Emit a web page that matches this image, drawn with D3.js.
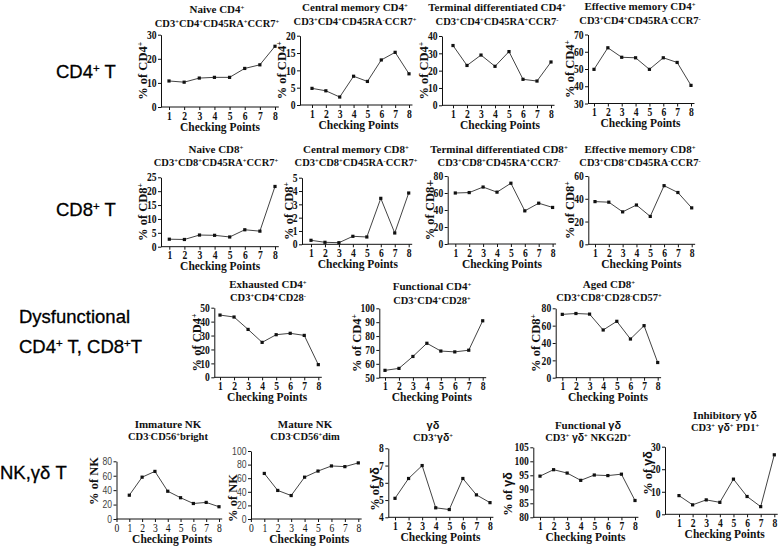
<!DOCTYPE html>
<html>
<head>
<meta charset="utf-8">
<script src="https://cdnjs.cloudflare.com/ajax/libs/d3/7.8.5/d3.min.js"></script>
<style>
  body { margin: 0; background: #fff; }
  svg { display: block; }
</style>
</head>
<body>
<div class="figure"></div>
<script>
// Data
// ========================
var checkPoints = [1, 2, 3, 4, 5, 6, 7, 8];

var naiveCD4 = [10.8, 10.3, 12, 12.3, 12.3, 16, 17.5, 25.2];
var centralMemCD4 = [4.8, 4.1, 2.3, 8.3, 6.8, 13, 15.2, 9];
var terminalCD4 = [34.5, 23, 29, 22.5, 31, 15, 14, 25];
var effectiveMemCD4 = [49.8, 62.3, 56.8, 56.5, 49.8, 56.5, 53.8, 40.5];

var naiveCD8 = [2.7, 2.6, 4.2, 4.1, 3.5, 6.1, 5.6, 21.7];
var centralMemCD8 = [0.3, 0.15, 0.12, 0.6, 0.55, 3.45, 0.85, 3.85];
var terminalCD8 = [60, 60.5, 67, 61, 71.5, 39, 48, 43];
var effectiveMemCD8 = [37.5, 37, 28.5, 34.5, 24.5, 51.5, 45.5, 32];

var exhaustedCD4 = [44.7, 43.3, 34.4, 25.1, 30.6, 31.6, 30.1, 9.1];
var functionalCD4 = [55.3, 56.7, 65.3, 74.8, 69.2, 68.6, 69.8, 91];
var agedCD8 = [73, 74, 73.3, 55, 65, 44.6, 60, 17.5];

var immatureNK = [33, 58, 66, 38.5, 29.5, 21.5, 23, 17];
var matureNK = [67, 42, 34.5, 61.5, 70.5, 78, 77, 82.5];
var gammaDelta = [5.1, 6.25, 7.0, 4.55, 4.45, 6.25, 5.3, 4.85];
var functionalGD = [94.7, 97, 95.8, 93.2, 95.1, 94.9, 95.4, 86];
var inhibitoryGD = [8.3, 4.2, 6.4, 5.3, 15.6, 7.9, 3.4, 26.4];

// tick labels
var ticks0to30 = [0, 10, 20, 30];
var ticks0to20 = [0, 5, 10, 15, 20];
var ticks0to40 = [0, 10, 20, 30, 40];
var ticks30to70 = [30, 40, 50, 60, 70];
var ticks0to25 = [0, 5, 10, 15, 20, 25];
var ticks0to5 = [0, 1, 2, 3, 4, 5];
var ticks0to80 = [0, 20, 40, 60, 80];
var ticks0to60 = [0, 20, 40, 60];
var ticks0to50 = [0, 10, 20, 30, 40, 50];
var ticks50to100 = [50, 60, 70, 80, 90, 100];
var ticks0to100 = [0, 20, 40, 60, 80, 100];
var ticks4to8 = [4, 5, 6, 7, 8];
var ticks80to105 = [80, 85, 90, 95, 100, 105];
var xTicksNK = [0, 1, 2, 3, 4, 5, 6, 7, 8];

var rowLabels = [
  { lines: ["CD4^+ T"], x: 56, y: 78 },
  { lines: ["CD8^+ T"], x: 56, y: 216 },
  { lines: ["Dysfunctional", "CD4^+ T,  CD8^+T"], x: 19, y: 323, gap: 30 },
  { lines: ["NK,γδ T"], x: 0, y: 479 }
];

// Panel layout (pixel boxes) + which series goes where
// ====================================================
var panels = [
  { title: "Naive CD4^+", sub: "CD3^+CD4^+CD45RA^+CCR7^+", ylab: "% of CD4^+", values: naiveCD4, dom: [0, 30], ticks: ticks0to30,
    ax: 161, x1: 169, x8: 275, top: 34.7, bot: 107, tx: 217, ty: 13, sy: 27, lx: 142.5 },
  { title: "Central memory CD4^+", sub: "CD3^+CD4^+CD45RA^-CCR7^+", ylab: "% of CD4^+", values: centralMemCD4, dom: [0, 20], ticks: ticks0to20,
    ax: 300, x1: 312, x8: 409, top: 35.7, bot: 105, tx: 355, ty: 11, sy: 25, lx: 281.5 },
  { title: "Terminal differentiated CD4^+", sub: "CD3^+CD4^+CD45RA^+CCR7^-", ylab: "% of CD4^+", values: terminalCD4, dom: [0, 40], ticks: ticks0to40,
    ax: 442, x1: 453, x8: 551, top: 36, bot: 105.3, tx: 497, ty: 11, sy: 25, lx: 424 },
  { title: "Effective memory CD4^+", sub: "CD3^+CD4^+CD45RA^-CCR7^-", ylab: "% of CD4^+", values: effectiveMemCD4, dom: [30, 70], ticks: ticks30to70,
    ax: 588, x1: 594, x8: 691, top: 34.5, bot: 103.5, tx: 640, ty: 10, sy: 24, lx: 570 },

  { title: "Naive CD8^+", sub: "CD3^+CD8^+CD45RA^+CCR7^+", ylab: "% of CD8^+", values: naiveCD8, dom: [0, 25], ticks: ticks0to25,
    ax: 161, x1: 169.3, x8: 275, top: 177.3, bot: 246.7, tx: 216, ty: 153, sy: 165.5, lx: 142.5 },
  { title: "Central memory CD8^+", sub: "CD3^+CD8^+CD45RA^-CCR7^+", ylab: "% of CD8^+", values: centralMemCD8, dom: [0, 5], ticks: ticks0to5,
    ax: 302, x1: 311, x8: 408.7, top: 177.7, bot: 244.3, tx: 356, ty: 153, sy: 165.5, lx: 288.5 },
  { title: "Terminal differentiated CD8^+", sub: "CD3^+CD8^+CD45RA^+CCR7^-", ylab: "% of CD8+", values: terminalCD8, dom: [0, 80], ticks: ticks0to80,
    ax: 447.7, x1: 455.3, x8: 552.6, top: 176, bot: 244, tx: 499, ty: 153, sy: 165.5, lx: 429.5 },
  { title: "Effective memory CD8^+", sub: "CD3^+CD8^+CD45RA^-CCR7^-", ylab: "% of CD8^+", values: effectiveMemCD8, dom: [0, 60], ticks: ticks0to60,
    ax: 588.3, x1: 595, x8: 691.7, top: 176, bot: 244.3, tx: 640, ty: 153, sy: 165.5, lx: 570 },

  { title: "Exhausted CD4^+", sub: "CD3^+CD4^+CD28^-", ylab: "% of CD4^+", values: exhaustedCD4, dom: [0, 50], ticks: ticks0to50,
    ax: 214.3, x1: 220, x8: 318.3, top: 307.7, bot: 377.3, tx: 268, ty: 288, sy: 301, lx: 196.5 },
  { title: "Functional CD4^+", sub: "CD3^+CD4^+CD28^+", ylab: "% of CD4^+", values: functionalCD4, dom: [50, 100], ticks: ticks50to100,
    ax: 379.3, x1: 385, x8: 482.7, top: 308.3, bot: 377.7, tx: 432, ty: 289.5, sy: 304, lx: 356.5 },
  { title: "Aged CD8^+", sub: "CD3^+CD8^+CD28^-CD57^+", ylab: "% of CD8^+", values: agedCD8, dom: [0, 80], ticks: ticks0to80,
    ax: 555.7, x1: 562.3, x8: 657.7, top: 308.3, bot: 377.7, tx: 609, ty: 288, sy: 301, lx: 535.5 },

  { title: "Immature NK", sub: "CD3^-CD56^+bright", ylab: "% of NK", values: immatureNK, dom: [0, 80], ticks: ticks0to80,
    ax: 116.5, x1: 129.3, x8: 219, top: 461.3, bot: 519, tx: 168, ty: 428, sy: 440, lx: 94, ly: 481, nk: true },
  { title: "Mature NK", sub: "CD3^-CD56^+dim", ylab: "% of NK", values: matureNK, dom: [0, 100], ticks: ticks0to100,
    ax: 251, x1: 264.3, x8: 358.3, top: 451, bot: 519, tx: 305, ty: 428, sy: 440, lx: 233, ly: 498, nk: true },
  { title: "γδ", sub: "CD3^+γδ^+", ylab: "% of γδ", values: gammaDelta, dom: [4, 8], ticks: ticks4to8,
    ax: 388.3, x1: 395, x8: 490, top: 448.3, bot: 517.3, tx: 433, ty: 429, sy: 441, lx: 375, ly: 489 },
  { title: "Functional  γδ", sub: "CD3^+ γδ^+ NKG2D^+", ylab: "% of γδ", values: functionalGD, dom: [80, 105], ticks: ticks80to105,
    ax: 533.3, x1: 540, x8: 635, top: 447.3, bot: 517.3, tx: 588, ty: 429, sy: 441, lx: 508, ly: 494 },
  { title: "Inhibitory γδ", sub: "CD3^+ γδ^+ PD1^+", ylab: "% of γδ", values: inhibitoryGD, dom: [0, 30], ticks: ticks0to30,
    ax: 665, x1: 679, x8: 774.3, top: 446.7, bot: 514.3, tx: 725, ty: 419, sy: 431, lx: 648, ly: 473 }
];

var svgWidth = 778;
var svgHeight = 547;
var serif = "'Liberation Serif', Tinos, 'Times New Roman', 'Nimbus Roman', 'DejaVu Serif', serif";
var sans = "'Liberation Sans', Arial, sans-serif";

var svg = d3
  .select(".figure")
  .append("svg")
  .attr("width", svgWidth)
  .attr("height", svgHeight);

// whatever serif we end up with, size it so it is as wide as Times bold
var probe = svg.append("text")
  .attr("font-family", serif)
  .attr("font-weight", "bold")
  .attr("font-size", 100)
  .text("Checking Points");
var fScale = Math.min(1.05, 697.3 / probe.node().getComputedTextLength());
probe.remove();
function fs(size) { return size * fScale; }

// writes "CD3^+CD4^-" style strings as text with superscripts
function richText(textSel, str) {
  str.split(/(\^[+-]|γδ)/).forEach(function (part) {
    if (!part) return;
    if (part === "^+" || part === "^-") {
      textSel.append("tspan")
        .attr("baseline-shift", "super")
        .attr("font-size", "0.62em")
        .text(part === "^+" ? "+" : "-");
    } else if (part === "γδ") {
      textSel.append("tspan")
        .attr("font-family", sans)
        .text(part);
    } else {
      textSel.append("tspan").text(part);
    }
  });
  return textSel;
}

// Row labels on the left
// ======================
rowLabels.forEach(function (row) {
  row.lines.forEach(function (line, i) {
    var t = svg.append("text")
      .attr("x", row.x)
      .attr("y", row.y + i * (row.gap || 0))
      .attr("font-family", sans)
      .attr("font-size", 18.5)
      .attr("stroke", "#000")
      .attr("stroke-width", 0.3)
      .attr("fill", "#000");
    richText(t, line);
  });
});

// One small line chart per panel
// ==============================
panels.forEach(function (p) {
  var g = svg.append("g").attr("class", "panel");

  var xScale = d3.scaleLinear()
    .domain([1, 8])
    .range([p.x1, p.x8]);

  var yScale = d3.scaleLinear()
    .domain(p.dom)
    .range([p.bot, p.top]);

  var xStart = p.nk ? 0 : xScale.invert(p.ax);
  var xTickVals = p.nk ? xTicksNK : checkPoints;

  // x axis: line from the y axis to just past point 8
  var bottomAxis = d3.axisBottom(xScale)
    .tickValues(xTickVals)
    .tickSize(3)
    .tickPadding(1.5)
    .tickSizeOuter(0)
    .tickFormat(d3.format("d"));

  var xAxis = g.append("g")
    .attr("transform", `translate(0, ${p.bot})`)
    .call(bottomAxis);
  xAxis.select(".domain")
    .attr("d", `M${xScale(xStart)},0H${xScale(8.25)}`);

  var leftAxis = d3.axisLeft(yScale)
    .tickValues(p.ticks)
    .tickSize(3)
    .tickPadding(1.5)
    .tickSizeOuter(0)
    .tickFormat(d3.format("d"));

  var yAxis = g.append("g")
    .attr("transform", `translate(${p.ax}, 0)`)
    .call(leftAxis);

  [xAxis, yAxis].forEach(function (a) {
    a.selectAll("path, line").attr("stroke", "#111").attr("stroke-width", 1);
    a.selectAll("text")
      .attr("font-family", serif)
      .attr("font-weight", "bold")
      .attr("font-size", fs(11.5))
      .attr("fill", "#111")
      // the original digits are narrow, squeeze ours to match
      .attr("textLength", function () { return this.textContent.length * 4.8; })
      .attr("lengthAdjust", "spacingAndGlyphs");
  });

  if (p.nk) {
    // NK panels use plain tick labels
    yAxis.selectAll("text")
      .attr("font-family", sans)
      .attr("font-weight", "normal")
      .attr("font-size", 10.5)
      .attr("fill", "#444");
    xAxis.selectAll("text")
      .attr("font-weight", "normal");
  }

  // line + markers
  var line = d3.line()
    .x((d, i) => xScale(checkPoints[i]))
    .y(d => yScale(d));

  g.append("path")
    .datum(p.values)
    .attr("d", line)
    .attr("fill", "none")
    .attr("stroke", "#444")
    .attr("stroke-width", 1);

  g.selectAll(".dot")
    .data(p.values)
    .enter()
    .append("rect")
    .attr("class", "dot")
    .attr("x", (d, i) => xScale(checkPoints[i]) - 1.6)
    .attr("y", d => yScale(d) - 1.6)
    .attr("width", 3.2)
    .attr("height", 3.2)
    .attr("fill", "#111");

  // titles
  var title = g.append("text")
    .attr("x", p.tx)
    .attr("y", p.ty)
    .attr("text-anchor", "middle")
    .attr("font-family", serif)
    .attr("font-weight", "bold")
    .attr("font-size", fs(11))
    .attr("fill", "#111");
  richText(title, p.title);

  var sub = g.append("text")
    .attr("x", p.tx)
    .attr("y", p.sy)
    .attr("text-anchor", "middle")
    .attr("font-family", serif)
    .attr("font-weight", "bold")
    .attr("font-size", fs(10.5))
    .attr("fill", "#111");
  richText(sub, p.sub);

  // axis titles
  g.append("text")
    .attr("x", (p.x1 + p.x8) / 2 - 2)
    .attr("y", p.bot + 23.5)
    .attr("text-anchor", "middle")
    .attr("font-family", serif)
    .attr("font-weight", "bold")
    .attr("font-size", fs(11.5))
    .attr("fill", "#111")
    .text("Checking Points");

  var ylab = g.append("text")
    .attr("transform", `translate(${p.lx}, ${p.ly || (p.top + p.bot) / 2}) rotate(-90)`)
    .attr("text-anchor", "middle")
    .attr("dy", "0.35em")
    .attr("font-family", serif)
    .attr("font-weight", "bold")
    .attr("font-size", fs(12.5))
    .attr("fill", "#111");
  richText(ylab, p.ylab);
});
</script>
</body>
</html>
